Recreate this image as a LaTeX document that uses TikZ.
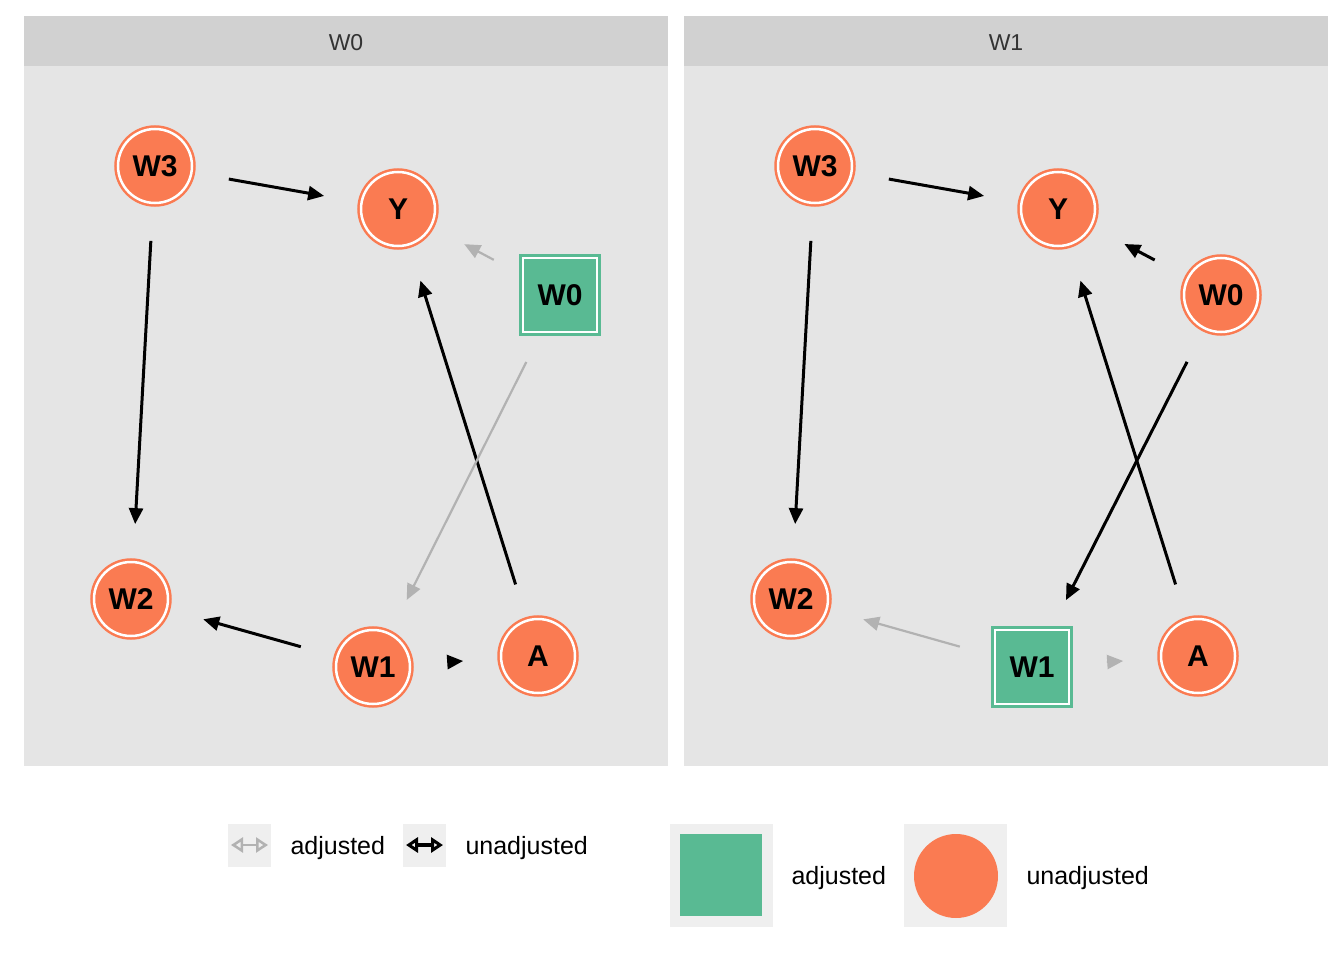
\documentclass[tikz,border=0pt]{standalone}
\usepackage{fontspec}
\setmainfont{Liberation Sans}
\usetikzlibrary{arrows.meta}

\definecolor{unadj}{HTML}{FA7B52}
\definecolor{adj}{HTML}{59BA93}
\definecolor{panelbg}{HTML}{E5E5E5}
\definecolor{stripbg}{HTML}{D1D1D1}
\definecolor{keybg}{HTML}{EFEFEF}
\definecolor{fadededge}{HTML}{B2B2B2}

\tikzset{
  dagnode/.style={draw=#1, fill=#1, double=white, line width=2.5pt,
    double distance=2.5pt, inner sep=0pt, text=black,
    font=\fontsize{30}{30}\selectfont\bfseries},
  unadjnode/.style={dagnode=unadj, circle, minimum size=74pt},
  adjnode/.style={dagnode=adj, rectangle, minimum size=74pt},
  uedge/.style={line width=3pt, black, -{Triangle[length=16pt,width=14pt]},
    shorten <=75pt, shorten >=75pt},
  aedge/.style={line width=2.2pt, fadededge, -{Triangle[length=16pt,width=14pt]},
    shorten <=75pt, shorten >=75pt},
  striplabel/.style={font=\fontsize{23}{23}\selectfont, text=black!80},
  legendtext/.style={font=\fontsize{25}{25}\selectfont, anchor=west, text=black},
  keybox/.style={fill=keybg, draw=none, inner sep=0pt},
  keyarrow/.style={{Triangle[open,length=12pt,width=15pt]}-{Triangle[open,length=12pt,width=15pt]}},
}

\begin{document}
\begin{tikzpicture}[x=1pt, y=-1pt]
  \fill[white] (0,0) rectangle (1344,960);
  \useasboundingbox (0,0) rectangle (1344,960);

  % panels and strips
  \fill[panelbg] (24,66) rectangle (668,766);
  \fill[stripbg] (24,16) rectangle (668,66);
  \fill[panelbg] (684,66) rectangle (1328,766);
  \fill[stripbg] (684,16) rectangle (1328,66);
  \node[striplabel] (stripL) at (346,43) {W0};
  \node[striplabel] (stripR) at (1006,43) {W1};

  % left panel: W0 adjusted
  \node[unadjnode] (aW3) at (155,166) {W3};
  \node[unadjnode] (aY)  at (398,209) {Y};
  \node[adjnode]   (aW0) at (560,295) {W0};
  \node[unadjnode] (aW2) at (131,599) {W2};
  \node[unadjnode] (aW1) at (373,667) {W1};
  \node[unadjnode] (aA)  at (538,656) {A};

  \draw[uedge] (aW3.center) -- (aY.center);
  \draw[uedge] (aW3.center) -- (aW2.center);
  \draw[uedge] (aW1.center) -- (aW2.center);
  \draw[uedge] (aW1.center) -- (aA.center);
  \draw[uedge] (aA.center) -- (aY.center);
  \draw[aedge] (aW0.center) -- (aY.center);
  \draw[aedge] (aW0.center) -- (aW1.center);

  % right panel: W1 adjusted
  \node[unadjnode] (bW3) at (815,166) {W3};
  \node[unadjnode] (bY)  at (1058,209) {Y};
  \node[unadjnode] (bW0) at (1221,295) {W0};
  \node[unadjnode] (bW2) at (791,599) {W2};
  \node[adjnode]   (bW1) at (1032,667) {W1};
  \node[unadjnode] (bA)  at (1198,656) {A};

  \draw[uedge] (bW3.center) -- (bY.center);
  \draw[uedge] (bW3.center) -- (bW2.center);
  \draw[uedge] (bW0.center) -- (bY.center);
  \draw[uedge] (bW0.center) -- (bW1.center);
  \draw[uedge] (bA.center) -- (bY.center);
  \draw[aedge] (bW1.center) -- (bW2.center);
  \draw[aedge] (bW1.center) -- (bA.center);

  % legend: edge keys
  \node[keybox, minimum width=43pt, minimum height=43pt] (keyE1) at (249.5,845.5) {};
  \coordinate (e1l) at (231,845);
  \coordinate (e1r) at (268,845);
  \draw[line width=2.5pt, fadededge, keyarrow] (e1l) -- (e1r);
  \node[legendtext] (lblE1) at (287,848) {adjusted};

  \node[keybox, minimum width=43pt, minimum height=43pt] (keyE2) at (424.5,845.5) {};
  \coordinate (e2l) at (406,845);
  \coordinate (e2r) at (443,845);
  \draw[line width=3.5pt, black, keyarrow] (e2l) -- (e2r);
  \node[legendtext] (lblE2) at (462,848) {unadjusted};

  % legend: node keys
  \node[keybox, minimum width=103pt, minimum height=103pt] (keyN1) at (721.5,875.5) {};
  \node[fill=adj, minimum size=82pt, inner sep=0pt] (symN1) at (721,875) {};
  \node[legendtext] (lblN1) at (788,878) {adjusted};

  \node[keybox, minimum width=103pt, minimum height=103pt] (keyN2) at (955.5,875.5) {};
  \node[fill=unadj, circle, minimum size=84pt, inner sep=0pt] (symN2) at (956,876) {};
  \node[legendtext] (lblN2) at (1023,878) {unadjusted};
\end{tikzpicture}
\end{document}
